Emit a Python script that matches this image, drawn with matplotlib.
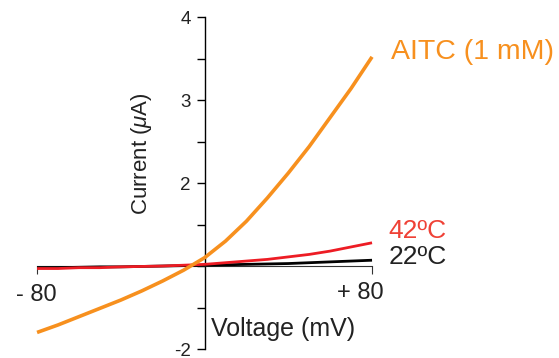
import numpy as np
import matplotlib
matplotlib.use("Agg")
import matplotlib.pyplot as plt

plt.rcParams["font.family"] = ["Liberation Sans", "DejaVu Sans"]
plt.rcParams["mathtext.fontset"] = "custom"
plt.rcParams["mathtext.rm"] = "Liberation Sans"
plt.rcParams["mathtext.it"] = "Liberation Sans:italic"

# voltage (mV) and current (uA, 0 at the x axis)
volt = [-80, -70, -60, -50, -40, -30, -20, -10, 0, 10, 20, 30, 40, 50, 60, 70, 80]
aitc = [-0.80, -0.71, -0.61, -0.51, -0.41, -0.30, -0.18, -0.05, 0.10,
        0.30, 0.54, 0.82, 1.12, 1.44, 1.79, 2.14, 2.52]
hot42 = [-0.03, -0.03, -0.02, -0.02, -0.01, -0.005, 0.00, 0.01, 0.02,
         0.04, 0.06, 0.08, 0.11, 0.14, 0.18, 0.23, 0.28]
rt22 = [-0.02, -0.02, -0.015, -0.01, -0.01, -0.005, 0.00, 0.005, 0.01,
        0.015, 0.02, 0.025, 0.03, 0.04, 0.05, 0.06, 0.07]

# y ticks: the figure's labels do not follow a linear scale, keep them as drawn
ytick_pos = [-1, -0.5, 0, 0.5, 1, 1.5, 2, 2.5, 3]
ytick_lab = ["-2", "", "", "", "2", "", "3", "", "4"]

ORANGE = "#F7901E"
RED = "#ED1C24"
RED_TXT = "#EF4136"

fig = plt.figure(figsize=(5.59, 3.58), dpi=100)
ax = fig.add_axes([0, 0, 1, 1])
ax.set_xlim(-97.7, 169.3)
ax.set_ylim(-1.108, 3.205)

ax.plot(volt, rt22, color="black", lw=2.0, solid_capstyle="butt", zorder=3)
ax.plot(volt, hot42, color=RED, lw=2.0, solid_capstyle="butt", zorder=4)
ax.plot(volt, aitc, color=ORANGE, lw=2.6, solid_capstyle="butt",
        solid_joinstyle="round", zorder=5)

for s in ["top", "right"]:
    ax.spines[s].set_visible(False)
ax.spines["left"].set_position(("data", 0))
ax.spines["bottom"].set_position(("data", 0))
ax.spines["left"].set_bounds(-1, 3)
ax.spines["bottom"].set_bounds(-80, 80)
ax.spines["left"].set_linewidth(1.0)
ax.spines["bottom"].set_linewidth(0.8)
ax.spines["bottom"].set_color("#333333")

ax.set_yticks(ytick_pos)
ax.set_yticklabels(ytick_lab, fontsize=13.5, color="#222222")
ax.tick_params(axis="y", direction="out", length=6, width=1.0, pad=4)
ax.set_xticks([-80, 80])
ax.set_xticklabels(["", ""])
ax.tick_params(axis="x", direction="out", length=6, width=0.8, color="#333333")

ax.text(-80.5, -0.35, "- 80", ha="center", va="center", fontsize=17, color="#222222")
ax.text(74.5, -0.33, "+ 80", ha="center", va="center", fontsize=17, color="#222222")
ax.text(3, -0.76, "Voltage (mV)", ha="left", va="center", fontsize=18, color="#222222")
ax.text(-30, 1.36, r"Current ($\mu$A)", ha="center", va="center", rotation=90,
        fontsize=16, color="#222222")

ax.text(89, 2.58, "AITC (1 mM)", ha="left", va="center", fontsize=20.5, color=ORANGE)
ax.text(88, 0.42, "42ºC", ha="left", va="center", fontsize=19, color=RED_TXT)
ax.text(88, 0.11, "22ºC", ha="left", va="center", fontsize=19, color="#222222")

fig.savefig("out.png", dpi=100)
